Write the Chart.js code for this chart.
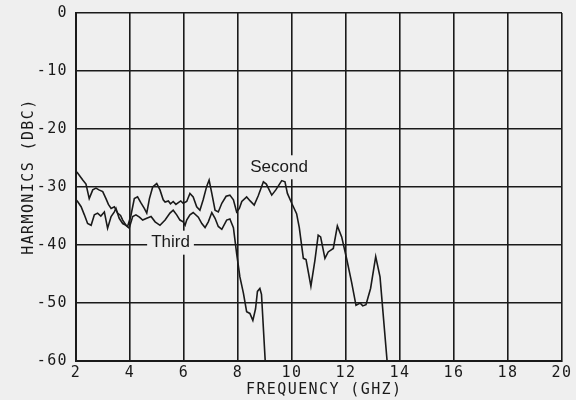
<!DOCTYPE html>
<html>
<head>
<meta charset="utf-8">
<script src="https://cdn.jsdelivr.net/npm/chart.js@4"></script>
<style>
  html, body { margin: 0; padding: 0; background: #efefef; }
  #wrap { width: 576px; height: 400px; position: relative; }
</style>
</head>
<body>
<div id="wrap"><canvas id="chart"></canvas></div>
<script>
/* ── Data ── */
const xTicks = [2, 4, 6, 8, 10, 12, 14, 16, 18, 20];
const yTicks = [0, -10, -20, -30, -40, -50, -60];

const secondFreq = [2.0, 2.06, 2.25, 2.37, 2.49, 2.62, 2.74, 2.85, 2.99, 3.11, 3.2, 3.3, 3.42, 3.54, 3.65, 3.73, 3.85, 3.91,
  4.03, 4.16, 4.28, 4.4, 4.53, 4.62, 4.72, 4.84, 4.99, 5.11, 5.23, 5.3, 5.42, 5.5, 5.6, 5.7, 5.79, 5.88, 5.97,
  6.1, 6.22, 6.34, 6.47, 6.59, 6.71, 6.84, 6.93, 7.03, 7.15, 7.27, 7.4, 7.56, 7.7, 7.83, 7.95,
  8.05, 8.14, 8.32, 8.45, 8.6, 8.75, 8.94, 9.05, 9.25, 9.4, 9.62, 9.74, 9.83, 9.99,
  10.17, 10.27, 10.42, 10.52, 10.7, 10.85, 10.97, 11.06, 11.22, 11.34, 11.53, 11.68, 11.84,
  12.03, 12.21, 12.37, 12.52, 12.62, 12.74, 12.91, 13.1, 13.26, 13.54];
const secondDb = [-27.3, -27.6, -28.8, -29.5, -32, -30.5, -30.2, -30.5, -30.8, -32, -33, -33.7, -33.4, -34.5, -34.9, -35.7, -36.6, -36.8,
  -35, -32, -31.7, -32.7, -33.7, -34.5, -32, -30, -29.4, -30.5, -32.2, -32.6, -32.4, -32.9, -32.5, -33, -32.7, -32.4, -32.8,
  -32.5, -31.1, -31.7, -33.4, -34, -32.2, -29.9, -28.8, -31.1, -34, -34.3, -32.8, -31.6, -31.4, -32.2, -34.3,
  -33.7, -32.5, -31.7, -32.4, -33.1, -31.5, -29.1, -29.5, -31.4, -30.5, -28.9, -29.1, -31.1, -32.8,
  -34.6, -37, -42.3, -42.5, -47.1, -42.6, -38.3, -38.6, -42.3, -41.2, -40.6, -36.7, -38.6,
  -42.5, -46.5, -50.4, -50, -50.5, -50.3, -47.5, -42, -45.5, -61];

const thirdFreq = [2.0, 2.06, 2.19, 2.31, 2.43, 2.56, 2.68, 2.8, 2.92, 3.05, 3.17, 3.3, 3.42, 3.48, 3.6, 3.73, 3.85, 3.97,
  4.1, 4.22, 4.35, 4.47, 4.62, 4.78, 4.93, 5.11, 5.3, 5.48, 5.6, 5.73, 5.85, 5.97,
  6.04, 6.1, 6.22, 6.34, 6.53, 6.66, 6.78, 6.9, 7.03, 7.15, 7.27, 7.4, 7.58, 7.7, 7.83, 7.95,
  8.07, 8.2, 8.32, 8.44, 8.55, 8.65, 8.72, 8.81, 8.87, 9.02];
const thirdDb = [-32.2, -32.5, -33.4, -34.8, -36.3, -36.6, -34.8, -34.5, -35, -34.3, -37.1, -35.1, -34.3, -33.7, -35.4, -36.3, -36.6, -37.1,
  -35.1, -34.8, -35.2, -35.7, -35.4, -35.1, -36, -36.6, -35.7, -34.5, -34, -34.8, -35.7, -36,
  -36.6, -35.7, -34.8, -34.4, -35.2, -36.3, -37, -36, -34.4, -35.4, -36.8, -37.3, -35.7, -35.5, -37, -41.5,
  -45.5, -48.3, -51.5, -51.8, -53, -51, -48, -47.5, -48.5, -61];

/* curve labels, anchored in data units */
const curveLabels = [
  { text: 'Second', x: 9.52, y: -26.6 },
  { text: 'Third',  x: 5.5,  y: -39.6 },
];

const INK = '#1a1a1a';
const BG = '#efefef';
const MONO = { family: 'DejaVu Sans Mono', size: 15 };

const toPoints = (xs, ys) => xs.map((x, i) => ({ x, y: ys[i] }));

/* plotter-style wide lettering */
const spacingPlugin = {
  id: 'spacing',
  beforeDraw(chart) { chart.ctx.letterSpacing = '1.4px'; },
};

/* boxed curve labels sitting over the grid */
const labelPlugin = {
  id: 'curveLabels',
  afterDraw(chart) {
    const { ctx, scales } = chart;
    ctx.save();
    ctx.letterSpacing = '0px';
    ctx.font = '17px "Liberation Sans", Arial, sans-serif';
    ctx.textAlign = 'center';
    ctx.textBaseline = 'middle';
    curveLabels.forEach(l => {
      const px = scales.x.getPixelForValue(l.x);
      const py = scales.y.getPixelForValue(l.y);
      const w = ctx.measureText(l.text).width;
      ctx.fillStyle = BG;
      ctx.fillRect(px - w / 2 - 4, py - 12, w + 8, 24);
      ctx.fillStyle = INK;
      ctx.fillText(l.text, px, py);
    });
    ctx.restore();
  },
};

new Chart(document.getElementById('chart'), {
  type: 'scatter',
  data: {
    datasets: [
      { label: 'Second', data: toPoints(secondFreq, secondDb) },
      { label: 'Third',  data: toPoints(thirdFreq, thirdDb) },
    ].map(d => ({
      ...d,
      showLine: true,
      borderColor: INK,
      borderWidth: 1.6,
      pointRadius: 0,
      tension: 0,
    })),
  },
  options: {
    responsive: true,
    maintainAspectRatio: false,
    animation: false,
    layout: { padding: { top: 13, right: 14, bottom: 0, left: 0 } },
    plugins: { legend: { display: false }, tooltip: { enabled: false } },
    scales: {
      x: {
        type: 'linear',
        min: 2, max: 20,
        afterBuildTicks: s => { s.ticks = xTicks.map(v => ({ value: v })); },
        afterFit: s => { s.height = 39; s.paddingLeft = 0; s.paddingRight = 0; },
        ticks: { color: INK, font: MONO, padding: 3, maxRotation: 0, callback: v => String(v) },
        grid: { color: INK, lineWidth: 1.6, drawTicks: false },
        border: { color: INK, width: 2 },
        title: { display: true, text: ' FREQUENCY (GHZ)', color: INK, font: MONO, padding: { top: 0, bottom: 1 } },
      },
      y: {
        min: -60, max: 0,
        afterBuildTicks: s => { s.ticks = yTicks.map(v => ({ value: v })); },
        afterFit: s => { s.width = 76; s.paddingTop = 0; s.paddingBottom = 0; },
        ticks: { color: INK, font: MONO, padding: 8, callback: v => String(v) },
        grid: { color: INK, lineWidth: 1.6, drawTicks: false },
        border: { color: INK, width: 2 },
        title: { display: true, text: '  HARMONICS (DBC)', color: INK, font: MONO, padding: { top: 20, bottom: 0 } },
      },
    },
  },
  plugins: [spacingPlugin, labelPlugin],
});
</script>
</body>
</html>
